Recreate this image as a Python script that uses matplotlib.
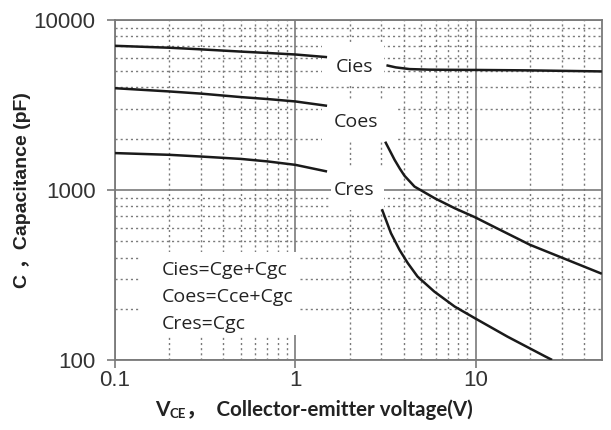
import numpy as np
import matplotlib

matplotlib.use("Agg")
import matplotlib.pyplot as plt  # noqa: E402
from matplotlib.patches import Rectangle  # noqa: E402
from matplotlib.ticker import LogLocator, NullFormatter  # noqa: E402

# capacitance curves (V, pF); each curve has a gap for its label
cies_v_lo = [0.1, 0.2, 0.3, 0.5, 0.7, 1.0, 1.5]
cies_c_lo = [7030, 6850, 6700, 6500, 6380, 6250, 6030]
cies_v_hi = [3.2, 3.6, 4.3, 5.5, 7, 10, 20, 50]
cies_c_hi = [5400, 5250, 5130, 5090, 5080, 5070, 5040, 4970]

coes_v_lo = [0.1, 0.2, 0.3, 0.5, 0.7, 1.0, 1.5]
coes_c_lo = [3960, 3790, 3680, 3510, 3420, 3310, 3120]
coes_v_hi = [3.15, 3.55, 3.8, 4.03, 4.58, 5.92, 7.64, 9.88, 12.4, 20, 50]
coes_c_hi = [1920, 1502, 1330, 1210, 1045, 893, 780, 691, 612, 475, 321]

cres_v_lo = [0.1, 0.2, 0.3, 0.5, 0.7, 1.0, 1.5]
cres_c_lo = [1645, 1607, 1570, 1520, 1470, 1403, 1282]
cres_v_hi = [3.02, 3.39, 3.78, 4.20, 4.76, 5.90, 7.64, 9.88, 15.0, 24.2, 26.5]
cres_c_hi = [770, 556, 444, 371, 309, 252, 206, 176, 137, 105, 100]

x_ticks = [0.1, 1, 10]
x_tick_labels = ["0.1", "1", "10"]
y_ticks = [100, 1000, 10000]
y_tick_labels = ["100", "1000", "10000"]

labels = ["Cies", "Coes", "Cres"]
label_pos = [(2.13, 5290), (2.18, 2512), (2.13, 1000)]
label_boxes = [(1.41, 3.12, 4090, 7320), (1.40, 3.64, 1941, 3380), (1.58, 3.12, 763, 1366)]
formulas = ["Cies=Cge+Cgc", "Coes=Cce+Cgc", "Cres=Cgc"]
formula_y = [338, 235, 163]

CURVE = "#1a1a1a"
GRID = "#7a7a7a"
TXT_FONT = ["Open Sans", "DejaVu Sans"]

fig = plt.figure(figsize=(6.11, 4.30), dpi=100)
ax = fig.add_axes([0.188, 0.163, 0.797, 0.791])
ax.set_xscale("log")
ax.set_yscale("log")
ax.set_xlim(0.1, 50)
ax.set_ylim(100, 10000)

for vs, cs in [(cies_v_lo, cies_c_lo), (cies_v_hi, cies_c_hi),
               (coes_v_lo, coes_c_lo), (coes_v_hi, coes_c_hi),
               (cres_v_lo, cres_c_lo), (cres_v_hi, cres_c_hi)]:
    ax.plot(vs, cs, color=CURVE, lw=1.8, zorder=3, solid_capstyle="butt",
            solid_joinstyle="round")

# grid
ax.set_axisbelow(True)
ax.xaxis.set_minor_locator(LogLocator(base=10, subs=np.arange(2, 10)))
ax.yaxis.set_minor_locator(LogLocator(base=10, subs=np.arange(2, 10)))
ax.xaxis.set_minor_formatter(NullFormatter())
ax.yaxis.set_minor_formatter(NullFormatter())
ax.grid(which="major", color=GRID, lw=1.2, ls="-")
ax.grid(which="minor", color=GRID, lw=1.0, ls=(0, (1.5, 2.2)))

# white boxes behind labels
for (x0, x1, y0, y1) in label_boxes:
    ax.add_patch(Rectangle((x0, y0), x1 - x0, y1 - y0, facecolor="white",
                           edgecolor="none", zorder=1))
ax.add_patch(Rectangle((0.1395, 140), 1.056 - 0.1395, 431 - 140, facecolor="white",
                       edgecolor="none", zorder=1))

for name, (lx, ly) in zip(labels, label_pos):
    ax.text(lx, ly, name, ha="center", va="center", fontsize=14,
            family=TXT_FONT, color="#222222", zorder=4)
for f, fy in zip(formulas, formula_y):
    ax.text(0.1825, fy, f, ha="left", va="center", fontsize=14,
            family=TXT_FONT, color="#222222", zorder=4)

ax.set_xticks(x_ticks, labels=x_tick_labels)
ax.set_yticks(y_ticks, labels=y_tick_labels)
ax.tick_params(which="major", direction="out", length=6, width=1.2, color=GRID,
               labelsize=16, labelcolor="#333333", pad=8)
ax.tick_params(axis="x", which="major", pad=1)
ax.tick_params(which="minor", length=0)
for lab in ax.get_xticklabels() + ax.get_yticklabels():
    lab.set_family(["Liberation Sans", "DejaVu Sans"])
for sp in ax.spines.values():
    sp.set_color(GRID)
    sp.set_linewidth(1.3)

# axis titles
ax.set_ylabel("C ，Capacitance (pF)", fontsize=14, fontweight="bold",
              family=["Liberation Sans", "Noto Sans CJK SC"], color="#222222",
              labelpad=2)
xl_font = ["Lato", "Noto Sans CJK SC"]
v = fig.text(0.254, 0.032, "V", fontsize=15, fontweight="bold", family=xl_font,
             color="#222222", va="baseline")
ce = ax.annotate("CE", xy=(1, 0), xycoords=v, fontsize=9.5, fontweight="bold",
                 family=xl_font, color="#222222", va="bottom", ha="left")
ax.annotate("，  Collector-emitter voltage(V)", xy=(1, 0), xycoords=(ce, v),
            fontsize=14.8, fontweight="bold", family=xl_font, color="#222222",
            va="bottom", ha="left")

fig.savefig("out.png", dpi=100)
